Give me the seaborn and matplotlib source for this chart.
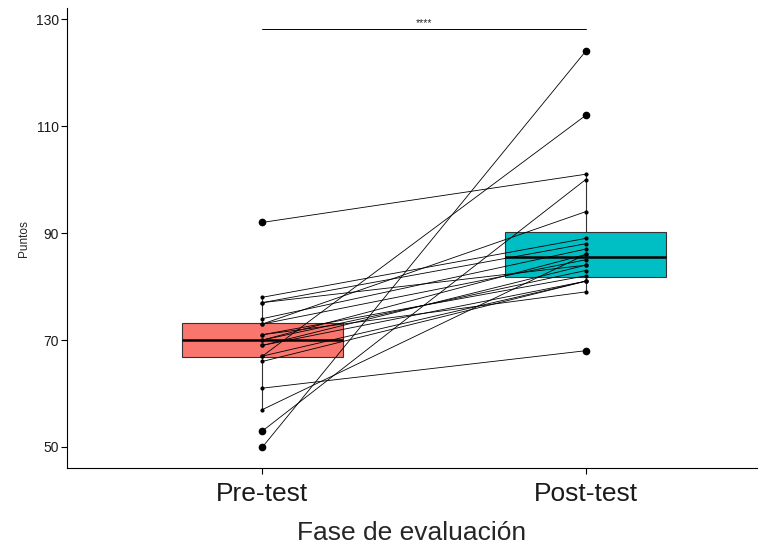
import pandas as pd
import matplotlib
matplotlib.use('Agg')
import matplotlib.pyplot as plt
import seaborn as sns

# Paired scores (pre -> post) for each participant
fases = ['Pre-test', 'Post-test']
pre_test = [92, 53, 50, 67, 73, 57, 61, 71, 78, 77, 77, 74, 73, 71, 70, 70, 69, 69, 67, 66]
post_test = [101, 100, 124, 112, 94, 86, 68, 79, 89, 88, 84, 87, 85, 82, 86, 83, 84, 81, 81, 81]
y_ticks = [50, 70, 90, 110, 130]
sig_label = '****'

ids = list(range(len(pre_test)))
df = pd.DataFrame({
    'id': ids + ids,
    'fase': [fases[0]] * len(pre_test) + [fases[1]] * len(post_test),
    'puntos': pre_test + post_test,
})

sns.set_style('white')
plt.rcParams['font.family'] = ['Liberation Sans', 'DejaVu Sans']

fig = plt.figure(figsize=(7.64, 5.45), dpi=100)
ax = fig.add_axes([0.0877, 0.1413, 0.903, 0.8437])

# Boxes
sns.boxplot(data=df, x='fase', y='puntos', hue='fase', order=fases,
            palette=['#F8766D', '#00BFC4'], saturation=1, width=0.5, whis=1.5,
            showcaps=False, linecolor='#333333', linewidth=0.8,
            medianprops=dict(color='black', linewidth=1.8),
            whiskerprops=dict(color='#333333', linewidth=0.8),
            flierprops=dict(marker='o', markerfacecolor='black',
                            markeredgecolor='black', markersize=4.5),
            legend=False, ax=ax)

# Paired lines
sns.lineplot(data=df, x='fase', y='puntos', units='id', estimator=None,
             color='black', linewidth=0.6, ax=ax)

# Paired points
sns.stripplot(data=df, x='fase', y='puntos', order=fases, jitter=False,
              color='black', size=3, ax=ax)

# Significance bracket
ax.plot([0, 1], [128.1, 128.1], color='black', linewidth=0.7)
ax.text(0.5, 128.3, sig_label, ha='center', va='bottom', fontsize=7.5)

ax.set_xlim(-0.605, 1.53)
ax.set_ylim(46.07, 132.06)
ax.set_yticks(y_ticks)
ax.set_xlabel('Fase de evaluación', fontsize=19, labelpad=11)
ax.set_ylabel('Puntos', fontsize=8.5, labelpad=4)
ax.tick_params(axis='x', labelsize=19, colors='black', length=4, width=0.8, pad=6)
ax.tick_params(axis='y', labelsize=10, colors='black', length=4, width=0.8, pad=2)
ax.tick_params(axis='both', direction='out', bottom=True, left=True)
for lbl in ax.get_xticklabels() + ax.get_yticklabels():
    lbl.set_color('#1a1a1a')

sns.despine(ax=ax)
for side in ['left', 'bottom']:
    ax.spines[side].set_color('black')
    ax.spines[side].set_linewidth(0.8)

fig.savefig('out.png', dpi=100)
